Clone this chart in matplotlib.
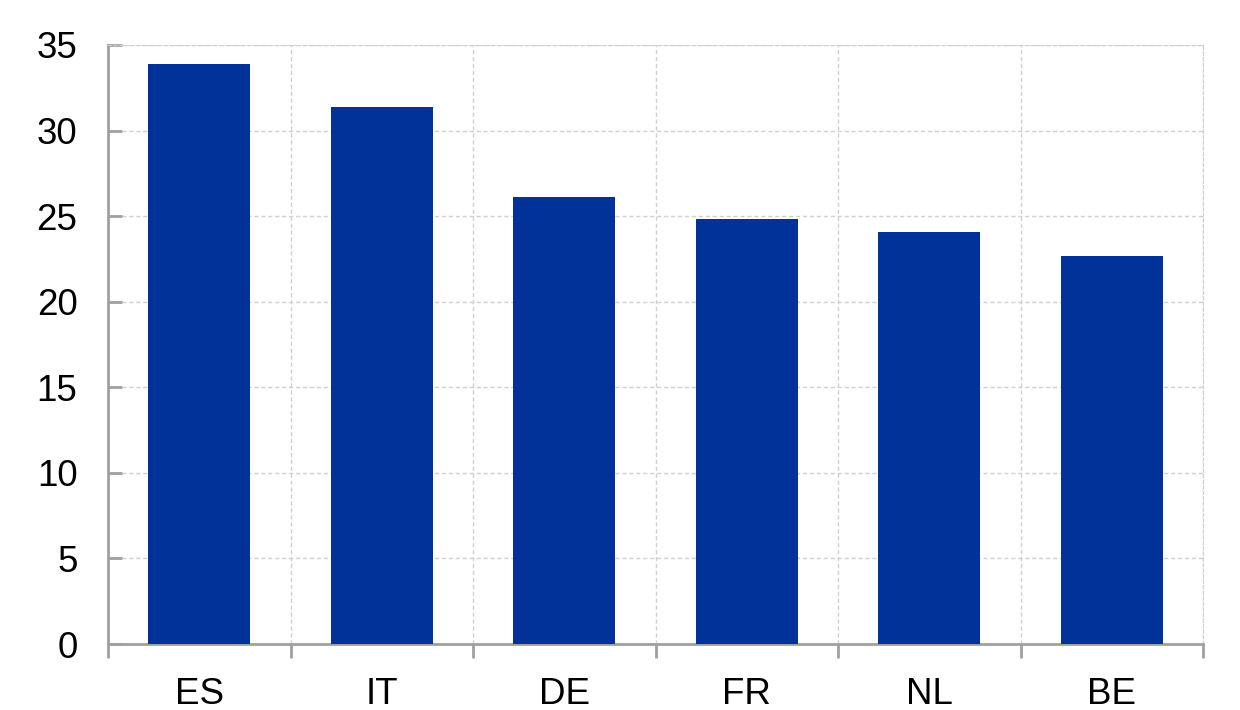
import numpy as np
import matplotlib.pyplot as plt

countries = ["ES", "IT", "DE", "FR", "NL", "BE"]
values = [33.9, 31.4, 26.1, 24.85, 24.1, 22.65]
yticks = [0, 5, 10, 15, 20, 25, 30, 35]

plt.rcParams['font.family'] = ['Liberation Sans', 'DejaVu Sans']

fig = plt.figure(figsize=(12.4, 7.1), dpi=100)
ax = fig.add_axes([108 / 1240, 1 - 644 / 710, (1203 - 108) / 1240, (644 - 45) / 710])

x = np.arange(len(countries))
ax.bar(x, values, width=0.56, color="#003299", zorder=3)

ax.set_xlim(-0.5, len(countries) - 0.5)
ax.set_ylim(0, 35)

# gridlines: horizontal at y ticks, vertical at category boundaries
ax.set_yticks(yticks)
ax.set_xticks(x)
ax.set_xticklabels(countries)
ax.set_xticks(np.arange(-0.5, len(countries)), minor=True)
ax.grid(axis="y", which="major", color="#d0d0d0", linestyle=(0, (3, 2)), linewidth=1, zorder=0)
ax.grid(axis="x", which="minor", color="#d0d0d0", linestyle=(0, (3, 2)), linewidth=1, zorder=0)

for s in ["top", "right"]:
    ax.spines[s].set_color("#d0d0d0")
    ax.spines[s].set_linestyle((0, (3, 2)))
for s in ["left", "bottom"]:
    ax.spines[s].set_color("#a0a0a0")
    ax.spines[s].set_linewidth(2)

ax.tick_params(axis="y", direction="in", length=10, width=2, color="#a0a0a0",
               labelsize=26.5, pad=22)
ax.tick_params(axis="x", which="major", length=0, labelsize=26.5, pad=24)
ax.tick_params(axis="x", which="minor", direction="out", length=10, width=2, color="#a0a0a0")

fig.savefig("out.png", dpi=100)
